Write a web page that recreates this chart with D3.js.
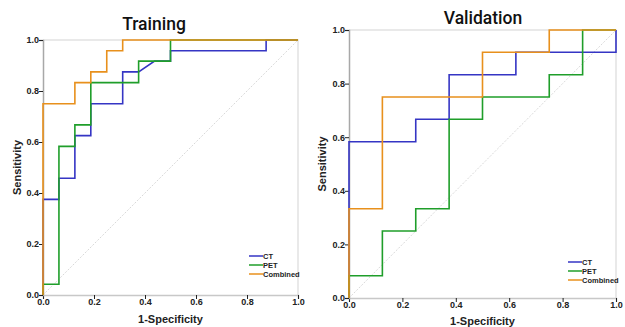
<!DOCTYPE html>
<html>
<head>
<meta charset="utf-8">
<script src="https://cdn.jsdelivr.net/npm/d3@7"></script>
<style>
    body { margin: 0; background: #fff; }
    #chart-area { width: 625px; height: 327px; overflow: hidden; }
    .tick text { font-family: "Liberation Sans", Arial, sans-serif; font-weight: bold; font-size: 9px; fill: #222; }
    .axis-label { font-family: "Liberation Sans", Arial, sans-serif; font-weight: bold; font-size: 11px; fill: #222; }
    .title { font-family: Roboto, "Noto Sans", sans-serif; font-weight: 500; font-size: 17.5px; fill: #111; }
    .legend text { font-family: "Liberation Sans", Arial, sans-serif; font-weight: bold; font-size: 7.5px; fill: #222; }
</style>
</head>
<body>
<div id="chart-area"></div>
<script>
const seriesNames = ['CT', 'PET', 'Combined'];
const tickValues = [0, 0.2, 0.4, 0.6, 0.8, 1.0];

// Training ROC points: [1-specificity, sensitivity]
const trainCT = [[0, 0], [0, 0.375], [0.0625, 0.375], [0.0625, 0.458], [0.125, 0.458], [0.125, 0.625],
    [0.1875, 0.625], [0.1875, 0.75], [0.3125, 0.75], [0.3125, 0.875], [0.375, 0.875], [0.4375, 0.917],
    [0.5, 0.917], [0.5, 0.958], [0.875, 0.958], [0.875, 1], [1, 1]];
const trainPET = [[0, 0], [0, 0.042], [0.0625, 0.042], [0.0625, 0.583], [0.125, 0.583], [0.125, 0.667],
    [0.1875, 0.667], [0.1875, 0.833], [0.375, 0.833], [0.375, 0.917], [0.5, 0.917], [0.5, 1], [1, 1]];
const trainCombined = [[0, 0], [0, 0.75], [0.125, 0.75], [0.125, 0.833], [0.1875, 0.833], [0.1875, 0.875],
    [0.25, 0.875], [0.25, 0.958], [0.3125, 0.958], [0.3125, 1], [1, 1]];

// Validation ROC points
const validCT = [[0, 0], [0, 0.583], [0.25, 0.583], [0.25, 0.667], [0.375, 0.667], [0.375, 0.833],
    [0.625, 0.833], [0.625, 0.917], [1, 0.917], [1, 1]];
const validPET = [[0, 0], [0, 0.083], [0.125, 0.083], [0.125, 0.25], [0.25, 0.25], [0.25, 0.333],
    [0.375, 0.333], [0.375, 0.667], [0.5, 0.667], [0.5, 0.75], [0.75, 0.75], [0.75, 0.833],
    [0.875, 0.833], [0.875, 1], [1, 1]];
const validCombined = [[0, 0], [0, 0.333], [0.125, 0.333], [0.125, 0.75], [0.5, 0.75], [0.5, 0.917],
    [0.75, 0.917], [0.75, 1], [1, 1]];

const colors = { CT: '#3535c4', PET: '#1f9e2a', Combined: '#e8901c' };

var svg = d3.select("#chart-area")
    .append("svg")
    .attr("width", 625)
    .attr("height", 327);

function drawPanel(p) {
    var width = p.right - p.left,
        height = p.bottom - p.top;

    var g = svg.append("g")
        .attr("transform", `translate(${p.left}, ${p.top})`);

    var x = d3.scaleLinear().domain([0, 1]).range([0, width]);
    var y = d3.scaleLinear().domain([0, 1]).range([height, 0]);

    //light frame top & right
    g.append("path")
        .attr("d", `M0,0H${width}V${height}`)
        .attr("fill", "none")
        .attr("stroke", "#e2e2e2")
        .attr("stroke-width", 1.5);

    //reference diagonal
    g.append("line")
        .attr("x1", x(0)).attr("y1", y(0))
        .attr("x2", x(1)).attr("y2", y(1))
        .attr("stroke", "#cfcfcf")
        .attr("stroke-width", 0.8)
        .attr("stroke-dasharray", "2,1.5");

    var xAxisCall = d3.axisBottom(x).tickValues(tickValues).tickSize(4).tickFormat(d3.format(".1f"));
    var xAxisGroup = g.append("g")
        .attr("transform", `translate(0, ${height})`)
        .call(xAxisCall);
    xAxisGroup.select(".domain").attr("stroke", "#c8c8c8").attr("stroke-width", 1.5);
    xAxisGroup.selectAll(".tick line").attr("stroke", "#222").attr("y2", 4);
    xAxisGroup.selectAll(".tick text").attr("dy", "0.5em").attr("y", 5);

    var yAxisCall = d3.axisLeft(y).tickValues(tickValues).tickSize(4).tickFormat(d3.format(".1f"));
    var yAxisGroup = g.append("g")
        .call(yAxisCall);
    yAxisGroup.select(".domain").attr("stroke", "#a8a8a8").attr("stroke-width", 1.5);
    yAxisGroup.selectAll(".tick line").attr("stroke", "#222");
    yAxisGroup.selectAll(".tick text").attr("x", -4);

    //roc curves
    var line = d3.line()
        .x(d => x(d[0]))
        .y(d => y(d[1]));

    p.series.forEach(function (s) {
        g.append("path")
            .datum(s.values)
            .attr("fill", "none")
            .attr("stroke", colors[s.name])
            .attr("stroke-width", 1.6)
            .attr("d", line);
    });

    //title & axis labels
    svg.append("text")
        .attr("class", "title")
        .attr("x", p.titleX)
        .attr("y", p.titleY)
        .attr("text-anchor", "middle")
        .text(p.title);

    svg.append("text")
        .attr("class", "axis-label")
        .attr("x", p.left + width / 2)
        .attr("y", p.xLabelY)
        .attr("text-anchor", "middle")
        .text("1-Specificity");

    svg.append("text")
        .attr("class", "axis-label")
        .attr("transform", `translate(${p.yLabelX}, ${p.top + height / 2}) rotate(-90)`)
        .attr("text-anchor", "middle")
        .text("Sensitivity");

    //legend
    var legend = svg.append("g")
        .attr("class", "legend")
        .attr("transform", `translate(${p.legendX}, ${p.legendY})`);

    seriesNames.forEach(function (name, i) {
        legend.append("line")
            .attr("x1", 0).attr("x2", 14)
            .attr("y1", i * 9).attr("y2", i * 9)
            .attr("stroke", colors[name])
            .attr("stroke-width", 1.5);
        legend.append("text")
            .attr("x", 14)
            .attr("y", i * 9)
            .attr("dy", "0.35em")
            .text(name);
    });
}

drawPanel({
    left: 43, right: 298, top: 40, bottom: 295,
    title: "Training", titleX: 154, titleY: 30,
    xLabelY: 323, yLabelX: 21,
    legendX: 249, legendY: 256,
    series: [
        { name: 'CT', values: trainCT },
        { name: 'PET', values: trainPET },
        { name: 'Combined', values: trainCombined }
    ]
});

drawPanel({
    left: 349, right: 616, top: 30, bottom: 298,
    title: "Validation", titleX: 483, titleY: 24,
    xLabelY: 324.5, yLabelX: 326,
    legendX: 568, legendY: 262,
    series: [
        { name: 'CT', values: validCT },
        { name: 'PET', values: validPET },
        { name: 'Combined', values: validCombined }
    ]
});
</script>
</body>
</html>
